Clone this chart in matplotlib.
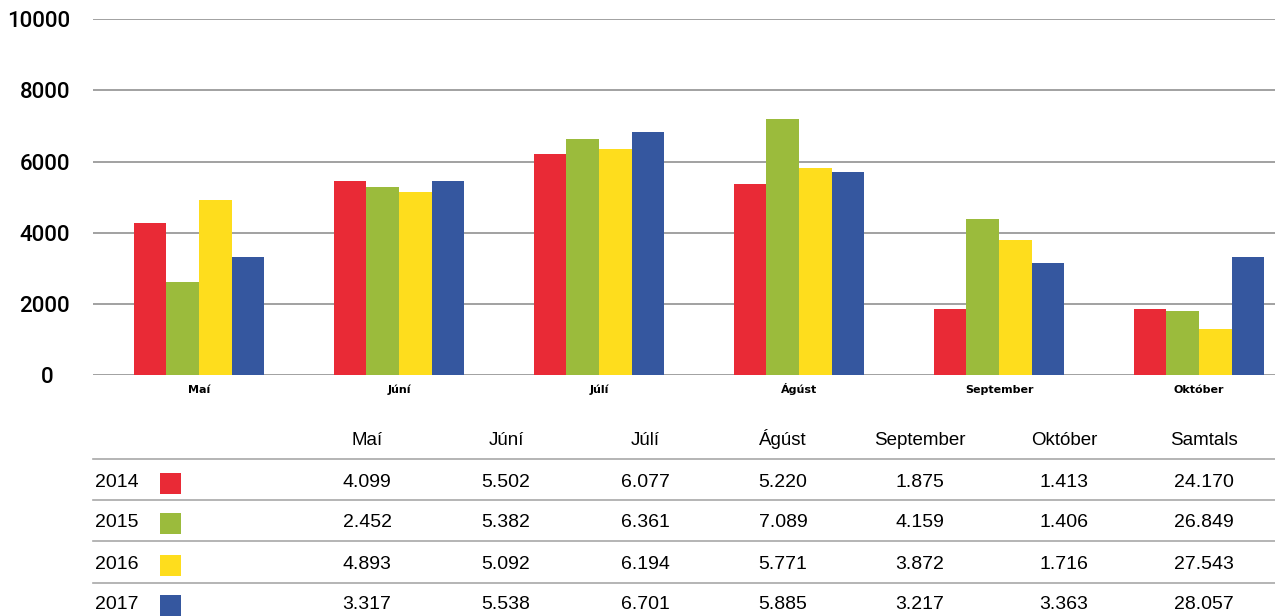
import matplotlib as mpl
import matplotlib.pyplot as plt
from matplotlib.patches import Rectangle
from matplotlib.transforms import blended_transform_factory

mpl.rcParams.update({
    "font.family": ["Liberation Sans", "DejaVu Sans"],
    "font.size": 14,
})

# --- data -----------------------------------------------------------------
months = ["Maí", "Júní", "Júlí", "Ágúst", "September", "Október"]
years = ["2014", "2015", "2016", "2017"]
colors = ["#E92A36", "#9BBB3C", "#FEDD1D", "#35579F"]

# bar heights as drawn in the chart
bars_2014 = [4280, 5460, 6220, 5370, 1860, 1860]
bars_2015 = [2620, 5290, 6640, 7200, 4390, 1810]
bars_2016 = [4920, 5150, 6360, 5820, 3800, 1300]
bars_2017 = [3320, 5460, 6830, 5710, 3150, 3320]
bar_series = [bars_2014, bars_2015, bars_2016, bars_2017]

# table below the chart
table_cols = months + ["Samtals"]
table_2014 = ["4.099", "5.502", "6.077", "5.220", "1.875", "1.413", "24.170"]
table_2015 = ["2.452", "5.382", "6.361", "7.089", "4.159", "1.406", "26.849"]
table_2016 = ["4.893", "5.092", "6.194", "5.771", "3.872", "1.716", "27.543"]
table_2017 = ["3.317", "5.538", "6.701", "5.885", "3.217", "3.363", "28.057"]
table_rows = [table_2014, table_2015, table_2016, table_2017]

yticks = [0, 2000, 4000, 6000, 8000, 10000]

W, H = 1275, 616
fig = plt.figure(figsize=(W / 100, H / 100), dpi=100)

# --- bar chart ------------------------------------------------------------
ax = fig.add_axes([93 / W, 1 - 375.3 / H, 1 - 93 / W, (375.3 - 19.3) / H])
bw = 0.163
x = list(range(len(months)))
for i, (vals, c) in enumerate(zip(bar_series, colors)):
    off = (i - 1.5) * bw
    ax.bar([xi + off for xi in x], vals, width=bw, color=c, zorder=3,
           linewidth=0)

ax.set_ylim(0, 10000)
ax.set_xlim(-0.53, 5.38)
ax.set_yticks(yticks)
# the "0" label sits a little left of the others in the original
ax.set_yticklabels([str(t) if t else "0   " for t in yticks],
                   fontsize=16, fontweight="medium",
                   family=["Roboto", "Liberation Sans"])
ax.yaxis.grid(True, color="#9a9a9a", lw=1.3, zorder=0)
ax.tick_params(axis="y", length=0, pad=16.5)
ax.set_xticks([])
for s in ax.spines.values():
    s.set_visible(False)

trans = blended_transform_factory(ax.transData, fig.transFigure)
for xi, m in zip(x, months):
    ax.text(xi, 1 - 393 / H, m, transform=trans, ha="center", va="baseline",
            fontsize=8, fontweight="bold", family="DejaVu Sans")

# --- table ---------------------------------------------------------------
tx = fig.add_axes([0, 0, 1, (H - 405) / H])
tx.set_xlim(0, W)
tx.set_ylim(H, 405)
tx.axis("off")

col_x = [367, 506, 645, 783, 920, 1064, 1204]
for j, name in enumerate(table_cols):
    tx.text(col_x[j], 445, name, ha="center", va="baseline", fontsize=13.5)

line_y = [459, 500, 541, 583]
for ly in line_y:
    tx.plot([93, W], [ly, ly], color="#a8a8a8", lw=1.2)

row_base = [487, 527, 569, 609]
for r, (yr, vals, c) in enumerate(zip(years, table_rows, colors)):
    yb = row_base[r]
    tx.text(95, yb, yr, ha="left", va="baseline", fontsize=14)
    tx.add_patch(Rectangle((160, yb - 14), 21, 21, color=c, lw=0))
    for j, v in enumerate(vals):
        tx.text(col_x[j], yb, v, ha="center", va="baseline", fontsize=14)

fig.savefig("out.png", dpi=100)
